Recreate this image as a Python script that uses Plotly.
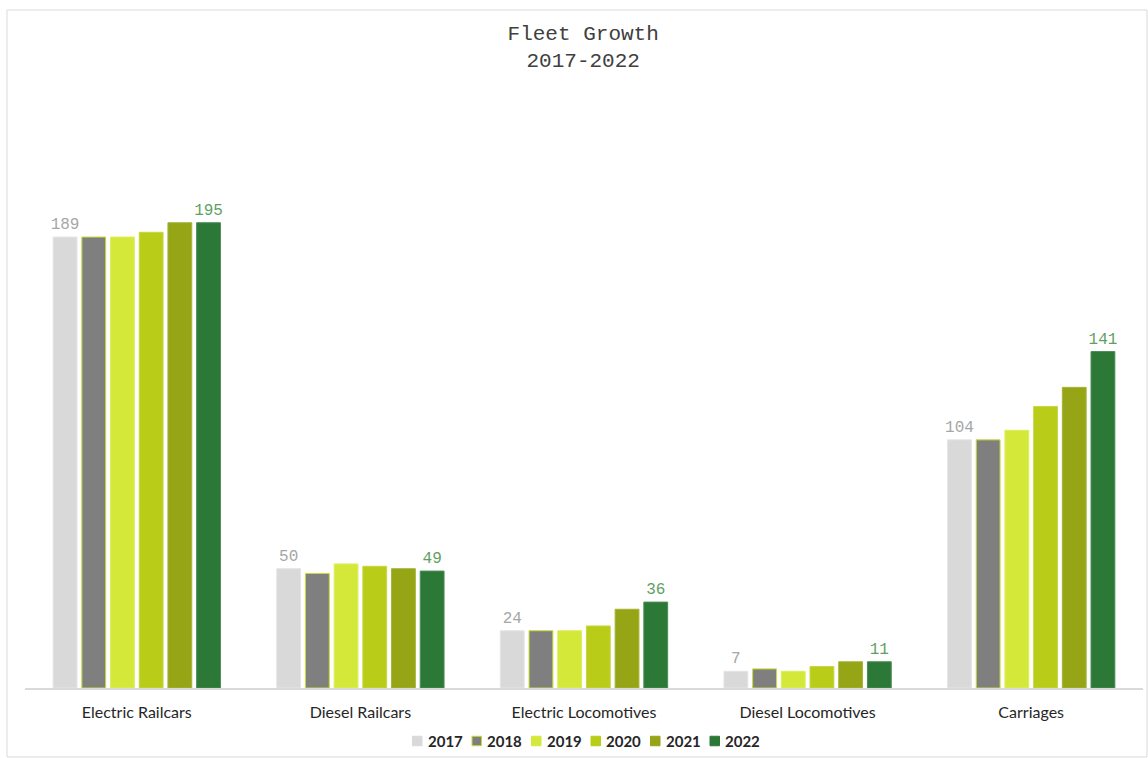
import plotly.graph_objects as go

categories = ["Electric Railcars", "Diesel Railcars", "Electric Locomotives",
              "Diesel Locomotives", "Carriages"]
years = ["2017", "2018", "2019", "2020", "2021", "2022"]

fleet_2017 = [189, 50, 24, 7, 104]
fleet_2018 = [189, 48, 24, 8, 104]
fleet_2019 = [189, 52, 24, 7, 108]
fleet_2020 = [191, 51, 26, 9, 118]
fleet_2021 = [195, 50, 33, 11, 126]
fleet_2022 = [195, 49, 36, 11, 141]

series = [fleet_2017, fleet_2018, fleet_2019, fleet_2020, fleet_2021, fleet_2022]
fills = ["#D9D9D9", "#7F7F7F", "#D4E83A", "#B9CC17", "#95A515", "#2C7837"]
edges = ["#E4E4E4", "#C9DC30", "#DDEE5C", "#C6D745", "#A5B43A", "#4C8C55"]
label_colors = {"2017": "#A6A6A6", "2022": "#5F9F62"}

W, H = 1148, 758
M_L, M_R, M_T, M_B = 25, 5, 80, 70
plot_w = W - M_L - M_R
plot_h = H - M_T - M_B


def px_x(px):
    return (px - M_L) / plot_w


def px_y(py):
    return (H - M_B - py) / plot_h


fig = go.Figure()
for yr, vals, fc, ec in zip(years, series, fills, edges):
    show_lbl = yr in label_colors
    fig.add_trace(go.Bar(
        name=yr,
        x=categories,
        y=vals,
        marker=dict(color=fc, line=dict(color=ec, width=1)),
        text=[str(v) for v in vals] if show_lbl else None,
        textposition="outside" if show_lbl else "none",
        constraintext="none",
        textfont=dict(family="Liberation Mono, Courier New, monospace", size=16,
                      color=label_colors.get(yr, "#A6A6A6")),
        cliponaxis=False,
        showlegend=False,
        hoverinfo="x+y+name",
    ))

# outer chart frame
shapes = [dict(type="rect", xref="paper", yref="paper",
               x0=px_x(7), x1=px_x(1147), y0=px_y(757), y1=px_y(10),
               line=dict(color="#D9D9D9", width=1), layer="below")]

# compact legend row: small square swatch followed by bold year
annotations = []
leg_left, leg_step, leg_cy, sw = 412.5, 59.5, 741, 9.5
for i, (yr, fc, ec) in enumerate(zip(years, fills, edges)):
    x0 = leg_left + i * leg_step
    shapes.append(dict(type="rect", xref="paper", yref="paper",
                       x0=px_x(x0), x1=px_x(x0 + sw),
                       y0=px_y(leg_cy + sw / 2), y1=px_y(leg_cy - sw / 2),
                       fillcolor=fc,
                       line=dict(color=ec if yr == "2018" else fc, width=1)))
    annotations.append(dict(xref="paper", yref="paper",
                            x=px_x(x0 + sw + 3.5), y=px_y(leg_cy),
                            xanchor="left", yanchor="middle", showarrow=False,
                            text=f"<b>{yr}</b>",
                            font=dict(family="Lato, Carlito, sans-serif",
                                      size=15, color="#262626")))

fig.update_layout(
    width=W, height=H,
    margin=dict(l=M_L, r=M_R, t=M_T, b=M_B, autoexpand=False),
    paper_bgcolor="white", plot_bgcolor="white",
    barmode="group", bargap=0.23, bargroupgap=0.17,
    title=dict(text="Fleet Growth<br>2017-2022", x=0.508, xanchor="center",
               y=1 - 40 / H, yanchor="middle", yref="container",
               font=dict(family="Liberation Mono, Courier New, monospace",
                         size=21, color="#404040")),
    xaxis=dict(showline=True, linecolor="#D9D9D9", linewidth=1.5,
               ticks="", showgrid=False, ticklabelstandoff=9,
               tickfont=dict(family="Lato, Carlito, sans-serif", size=16,
                             color="#262626")),
    yaxis=dict(range=[0, plot_h / 2.386], visible=False, showgrid=False),
    showlegend=False,
    shapes=shapes,
    annotations=annotations,
)

fig.write_html("out.html")
